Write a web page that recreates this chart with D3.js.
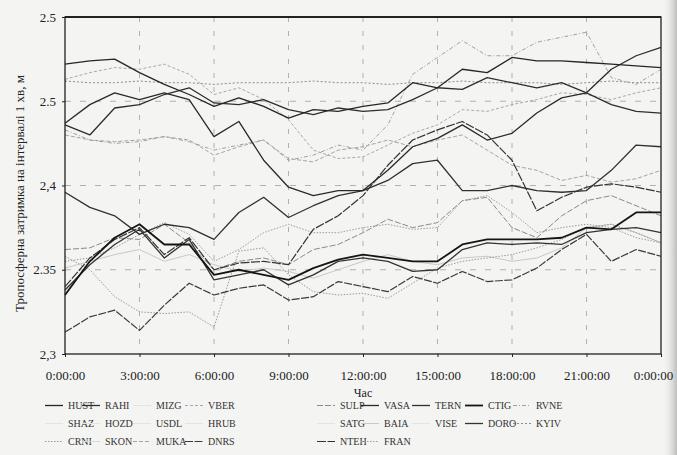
<!DOCTYPE html>
<html>
<head>
<meta charset="utf-8">
<script src="https://cdn.jsdelivr.net/npm/d3@7"></script>
<style>
  html, body { margin: 0; padding: 0; background: #f4f4f2; }
  svg { display: block; font-family: "Liberation Serif", "DejaVu Serif", serif; }
</style>
</head>
<body>
<div id="chart"></div>
<script>
// hourly samples, 0:00 to next 0:00
const hours = [0,1,2,3,4,5,6,7,8,9,10,11,12,13,14,15,16,17,18,19,20,21,22,23,24];
const xTickHours = [0,3,6,9,12,15,18,21,24];
const xTickLabels = ["0:00:00","3:00:00","6:00:00","9:00:00","12:00:00","15:00:00","18:00:00","21:00:00","0:00:00"];
const yTickValues = [2.3,2.35,2.4,2.45,2.5];
const yTickLabels = ["2,3","2.35","2,4","2.5","2.5"];

const HUST = [2.472,2.474,2.475,2.467,2.460,2.454,2.447,2.452,2.447,2.440,2.445,2.444,2.447,2.449,2.461,2.458,2.469,2.467,2.476,2.474,2.474,2.473,2.472,2.471,2.470];
const RAHI = [2.436,2.430,2.446,2.448,2.454,2.458,2.449,2.448,2.451,2.445,2.442,2.446,2.444,2.445,2.451,2.458,2.457,2.464,2.461,2.458,2.461,2.455,2.448,2.444,2.443];
const VASA = [2.437,2.448,2.455,2.451,2.455,2.451,2.429,2.438,2.415,2.399,2.394,2.397,2.397,2.409,2.423,2.428,2.436,2.427,2.431,2.443,2.452,2.455,2.469,2.477,2.482];
const VBER = [2.463,2.467,2.470,2.469,2.472,2.466,2.454,2.458,2.451,2.439,2.421,2.416,2.417,2.424,2.431,2.436,2.445,2.444,2.448,2.451,2.455,2.454,2.451,2.455,2.458];
const RVNE = [2.433,2.427,2.425,2.426,2.429,2.426,2.421,2.424,2.427,2.415,2.418,2.424,2.421,2.436,2.466,2.476,2.486,2.477,2.477,2.485,2.488,2.491,2.464,2.460,2.469];
const KYIV = [2.462,2.461,2.461,2.462,2.461,2.461,2.460,2.461,2.461,2.461,2.462,2.461,2.461,2.460,2.461,2.461,2.462,2.461,2.461,2.461,2.460,2.461,2.462,2.461,2.461];
const TERN = [2.396,2.387,2.382,2.371,2.377,2.375,2.368,2.384,2.393,2.381,2.388,2.394,2.397,2.403,2.413,2.415,2.397,2.397,2.400,2.397,2.396,2.397,2.409,2.424,2.423];
const NTEH = [2.340,2.357,2.368,2.375,2.359,2.369,2.350,2.354,2.355,2.353,2.374,2.382,2.394,2.412,2.427,2.433,2.438,2.430,2.415,2.385,2.393,2.399,2.401,2.399,2.396];
const CTIG = [2.335,2.355,2.369,2.377,2.365,2.365,2.347,2.350,2.347,2.344,2.351,2.356,2.359,2.357,2.355,2.355,2.365,2.368,2.368,2.368,2.369,2.375,2.374,2.384,2.384];
const DORO = [2.338,2.353,2.365,2.374,2.357,2.368,2.344,2.347,2.350,2.341,2.347,2.355,2.357,2.355,2.349,2.350,2.362,2.366,2.365,2.366,2.365,2.372,2.374,2.375,2.372];
const DNRS = [2.313,2.322,2.326,2.314,2.329,2.342,2.335,2.339,2.341,2.332,2.334,2.343,2.340,2.337,2.346,2.342,2.349,2.343,2.344,2.351,2.362,2.371,2.355,2.362,2.358];
const CRNI = [2.358,2.350,2.334,2.325,2.324,2.325,2.316,2.361,2.363,2.347,2.337,2.335,2.336,2.333,2.342,2.351,2.355,2.357,2.359,2.363,2.368,2.375,2.377,2.372,2.366];
const FRAN = [2.355,2.357,2.363,2.371,2.378,2.371,2.355,2.362,2.372,2.377,2.372,2.372,2.375,2.377,2.374,2.375,2.391,2.394,2.384,2.372,2.375,2.377,2.375,2.369,2.366];
const MUKA = [2.430,2.427,2.426,2.427,2.429,2.427,2.418,2.423,2.427,2.416,2.414,2.421,2.423,2.427,2.423,2.427,2.430,2.421,2.412,2.409,2.403,2.406,2.402,2.404,2.409];
const SULP = [2.362,2.363,2.369,2.368,2.377,2.366,2.350,2.355,2.357,2.353,2.362,2.365,2.372,2.380,2.375,2.378,2.391,2.393,2.375,2.369,2.382,2.391,2.394,2.388,2.382];
const BAIA = [2.351,2.355,2.359,2.362,2.355,2.359,2.353,2.349,2.351,2.349,2.345,2.350,2.355,2.359,2.355,2.353,2.357,2.358,2.355,2.357,2.363,2.375,2.377,2.372,2.366];

const seriesData = { HUST, RAHI, VASA, VBER, RVNE, KYIV, TERN, NTEH, CTIG, DORO, DNRS, CRNI, FRAN, MUKA, SULP, BAIA };

const legendRows = [
  ["HUST","RAHI","MIZG","VBER","SULP","VASA","TERN","CTIG","RVNE"],
  ["SHAZ","HOZD","USDL","HRUB","SATG","BAIA","VISE","DORO","KYIV"],
  ["CRNI","SKON","MUKA","DNRS","NTEH","FRAN"]
];

// stroke styles per station
const styles = {
  HUST: { c: "#262626", w: 1.3, d: null },
  RAHI: { c: "#2e2e2e", w: 1.3, d: null },
  MIZG: { c: "#e4e4e2", w: 1, d: null },
  VBER: { c: "#a8a8a8", w: 1, d: "3,2" },
  SULP: { c: "#8a8a8a", w: 1, d: "6,2" },
  VASA: { c: "#2a2a2a", w: 1.3, d: null },
  TERN: { c: "#303030", w: 1.3, d: null },
  CTIG: { c: "#151515", w: 1.8, d: null },
  RVNE: { c: "#a0a0a0", w: 1, d: "4,2,1,2" },
  SHAZ: { c: "#e4e4e2", w: 1, d: null },
  HOZD: { c: "#e4e4e2", w: 1, d: null },
  USDL: { c: "#e4e4e2", w: 1, d: null },
  HRUB: { c: "#e4e4e2", w: 1, d: null },
  SATG: { c: "#e4e4e2", w: 1, d: null },
  BAIA: { c: "#c8c8c8", w: 1, d: null },
  VISE: { c: "#e4e4e2", w: 1, d: null },
  DORO: { c: "#333", w: 1.3, d: null },
  KYIV: { c: "#8c8c8c", w: 1, d: "2,2" },
  CRNI: { c: "#9a9a9a", w: 1, d: "1.5,1.5" },
  SKON: { c: "#d8d8d8", w: 1, d: null },
  MUKA: { c: "#a5a5a5", w: 1, d: "4,2" },
  DNRS: { c: "#3a3a3a", w: 1.2, d: "8,1.5" },
  NTEH: { c: "#333", w: 1.2, d: "9,1.5" },
  FRAN: { c: "#9c9c9c", w: 1, d: "1.5,1.5" }
};

const drawOrder = ["BAIA","MUKA","KYIV","FRAN","CRNI","RVNE","VBER","SULP","DNRS","DORO","NTEH","TERN","VASA","RAHI","HUST","CTIG"];

const width = 677, height = 455;
const plotL = 65, plotR = 661, plotT = 17, plotB = 354;

const svg = d3.select("#chart").append("svg")
  .attr("width", width).attr("height", height);

// scan tint at the right edge
const grad = svg.append("defs").append("linearGradient").attr("id", "edge");
grad.append("stop").attr("offset", "0%").attr("stop-color", "#f4f4f2").attr("stop-opacity", 0);
grad.append("stop").attr("offset", "100%").attr("stop-color", "#bdbdbb").attr("stop-opacity", 1);
svg.append("rect").attr("x", 662).attr("y", 0).attr("width", 15).attr("height", height).attr("fill", "url(#edge)");

const x = d3.scaleLinear().domain([0, 24]).range([plotL, plotR]);
const y = d3.scaleLinear().domain([2.3, 2.5]).range([plotB, plotT]);

// grid
svg.append("g").selectAll("line").data(xTickHours.slice(1, -1)).join("line")
  .attr("x1", d => x(d)).attr("x2", d => x(d)).attr("y1", plotT).attr("y2", plotB)
  .attr("stroke", "#a0a0a0").attr("stroke-width", 0.8).attr("stroke-dasharray", "5,9");
svg.append("g").selectAll("line").data(yTickValues.slice(1, -1)).join("line")
  .attr("x1", plotL).attr("x2", plotR).attr("y1", d => y(d)).attr("y2", d => y(d))
  .attr("stroke", "#a0a0a0").attr("stroke-width", 0.8).attr("stroke-dasharray", "6,9");

// series
const line = d3.line().x((d, i) => x(hours[i])).y(d => y(d));
drawOrder.forEach(name => {
  const s = styles[name];
  svg.append("path").datum(seriesData[name])
    .attr("fill", "none")
    .attr("stroke", s.c)
    .attr("stroke-width", s.w)
    .attr("stroke-dasharray", s.d)
    .attr("stroke-linejoin", "round")
    .attr("d", line);
});

// frame
svg.append("rect").attr("x", plotL).attr("y", plotT).attr("width", plotR - plotL).attr("height", plotB - plotT)
  .attr("fill", "none").attr("stroke", "#222").attr("stroke-width", 1.3);
svg.append("line").attr("x1", plotL).attr("x2", plotR).attr("y1", plotT).attr("y2", plotT)
  .attr("stroke", "#222").attr("stroke-width", 2);

// axes
const yAxis = svg.append("g").attr("transform", `translate(${plotL},0)`)
  .call(d3.axisLeft(y).tickValues(yTickValues).tickSize(3).tickPadding(6)
    .tickFormat((d, i) => yTickLabels[i]));
yAxis.select(".domain").remove();
yAxis.selectAll("text").attr("font-size", 13).attr("fill", "#222")
  .attr("font-family", "Liberation Serif, serif");
yAxis.selectAll("line").attr("stroke", "#222");

const xAxis = svg.append("g").attr("transform", `translate(0,${plotB})`)
  .call(d3.axisBottom(x).tickValues(xTickHours).tickSize(3).tickPadding(14)
    .tickFormat((d, i) => xTickLabels[i]));
xAxis.select(".domain").remove();
xAxis.selectAll("text").attr("font-size", 13).attr("fill", "#222")
  .attr("font-family", "Liberation Serif, serif");
xAxis.selectAll("line").attr("stroke", "#222");
// last label sits a little left so it stays inside the page
xAxis.selectAll(".tick").filter((d, i) => i === xTickHours.length - 1)
  .select("text").attr("dx", -8);

// axis titles
svg.append("text")
  .attr("transform", `translate(24,${(plotT + plotB) / 2 + 8}) rotate(-90)`)
  .attr("text-anchor", "middle").attr("font-size", 13).attr("fill", "#222")
  .text("Тропосферна затримка на інтервалі 1 хв, м");
svg.append("text")
  .attr("x", 363).attr("y", 397).attr("text-anchor", "middle")
  .attr("font-size", 12).attr("fill", "#222")
  .text("Час");

// legend
const colX = [68, 105, 156, 208, 340, 384, 435, 488, 536];
const rowY = [409, 427, 445];
legendRows.forEach((row, r) => {
  row.forEach((name, c) => {
    const s = styles[name];
    const g = svg.append("g");
    g.append("line")
      .attr("x1", colX[c] - 23).attr("x2", colX[c] - 5)
      .attr("y1", rowY[r] - 3.5).attr("y2", rowY[r] - 3.5)
      .attr("stroke", s.c).attr("stroke-width", s.w)
      .attr("stroke-dasharray", s.d);
    g.append("text")
      .attr("x", colX[c]).attr("y", rowY[r])
      .attr("font-size", 10).attr("fill", "#333")
      .text(name);
  });
});
</script>
</body>
</html>
